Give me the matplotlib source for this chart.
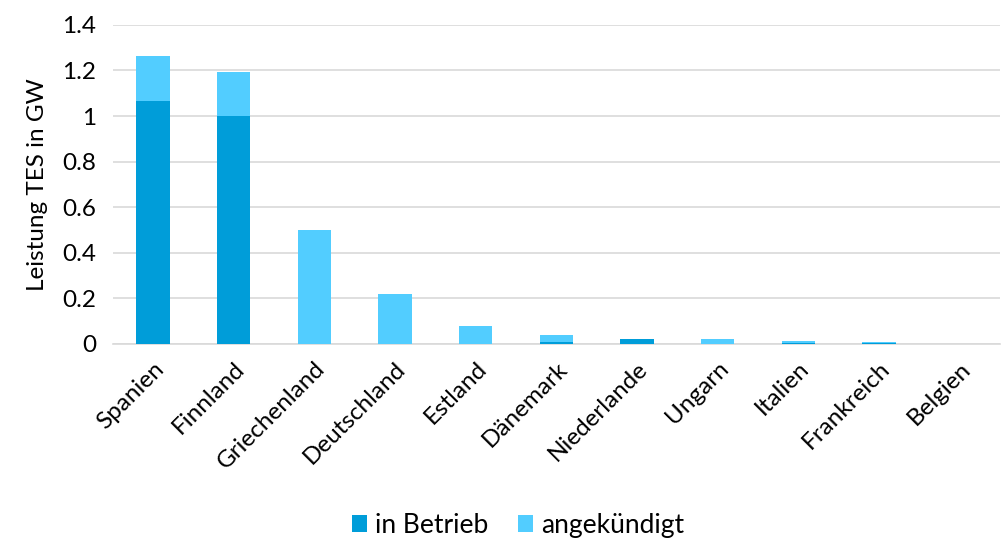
import numpy as np
import matplotlib.pyplot as plt

plt.rcParams['font.family'] = ['Lato', 'DejaVu Sans']

# Data
countries = ['Spanien', 'Finnland', 'Griechenland', 'Deutschland', 'Estland',
             'Dänemark', 'Niederlande', 'Ungarn', 'Italien', 'Frankreich', 'Belgien']
in_betrieb = [1.065, 1.0, 0.0, 0.0, 0.0, 0.01, 0.023, 0.0, 0.006, 0.004, 0.0]
angekuendigt = [0.2, 0.195, 0.5, 0.22, 0.08, 0.03, 0.0, 0.02, 0.006, 0.004, 0.002]

fig = plt.figure(figsize=(10.06, 5.4), dpi=100)
ax = fig.add_axes([0.112, 0.363, 0.882, 0.591])

x = np.arange(len(countries))
ax.bar(x, in_betrieb, width=0.41, color='#009DD9', label='in Betrieb', zorder=3)
ax.bar(x, angekuendigt, width=0.41, bottom=in_betrieb, color='#52CDFF',
       label='angekündigt', zorder=3)

ax.set_xlim(-0.5, len(countries) - 0.5)
ax.set_ylim(0, 1.4)
ax.set_yticks([0, 0.2, 0.4, 0.6, 0.8, 1.0, 1.2, 1.4])
ax.set_yticklabels(['0', '0.2', '0.4', '0.6', '0.8', '1', '1.2', '1.4'], fontsize=17.5)
ax.set_xticks(x)
ax.set_xticklabels(countries, rotation=45, ha='right', rotation_mode='anchor', fontsize=17.5)
ax.tick_params(length=0)
ax.tick_params(axis='x', pad=10)
ax.tick_params(axis='y', pad=12)
ax.set_ylabel('Leistung TES in GW', fontsize=17.5, labelpad=10)

ax.grid(axis='y', color='#D9D9D9', linewidth=1.2, zorder=0)
for s in ['top', 'right', 'left']:
    ax.spines[s].set_visible(False)
ax.spines['bottom'].set_color('#D9D9D9')
ax.spines['bottom'].set_linewidth(1.2)

fig.legend(loc='lower center', bbox_to_anchor=(0.515, -0.04), ncol=2, frameon=False,
           fontsize=19, handlelength=0.6, handleheight=0.6, handletextpad=0.3,
           columnspacing=1.1)

fig.savefig('out.png', dpi=100)
